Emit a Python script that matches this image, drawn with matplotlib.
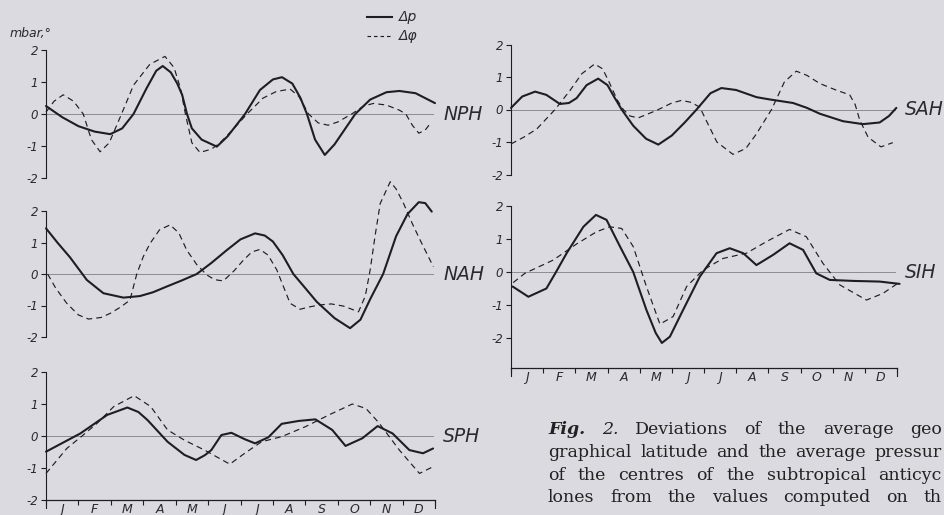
import matplotlib.pyplot as plt
from matplotlib.lines import Line2D

W, H = 944, 515
paper = '#dbdae0'
ink = '#1e1e22'

months = ['J', 'F', 'M', 'A', 'M', 'J', 'J', 'A', 'S', 'O', 'N', 'D']
yticks = [2, 1, 0, -1, -2]

# NPH
nph_p_m = [0, 0.5, 1.0, 1.5, 1.98, 2.35, 2.7, 3.1, 3.4, 3.6, 3.85, 4.05, 4.2, 4.35, 4.5, 4.8, 5.27, 5.6, 6.14, 6.6, 7.0, 7.28, 7.6, 7.85, 8.05, 8.3, 8.6, 8.9, 9.54, 10.0, 10.5, 10.9, 11.4, 12.0]
nph_p_v = [0.25, -0.1, -0.38, -0.55, -0.63, -0.45, 0.0, 0.8, 1.35, 1.5, 1.3, 0.95, 0.6, 0.0, -0.45, -0.8, -1.02, -0.7, 0.0, 0.75, 1.08, 1.15, 0.95, 0.5, 0.0, -0.8, -1.28, -0.95, 0.0, 0.45, 0.68, 0.72, 0.65, 0.34]
nph_f_m = [0, 0.25, 0.53, 0.85, 1.15, 1.4, 1.67, 1.95, 2.33, 2.7, 3.2, 3.67, 3.95, 4.15, 4.3, 4.5, 4.75, 5.1, 5.37, 5.8, 6.2, 6.7, 7.1, 7.53, 7.8, 8.1, 8.4, 8.7, 9.0, 9.43, 9.8, 10.1, 10.5, 10.9, 11.1, 11.3, 11.5, 11.7, 11.85]
nph_f_v = [0.06, 0.4, 0.6, 0.4, 0.0, -0.8, -1.18, -0.9, 0.0, 0.9, 1.55, 1.8, 1.45, 0.8, 0.0, -0.9, -1.2, -1.1, -0.9, -0.45, 0.0, 0.5, 0.7, 0.78, 0.55, 0.0, -0.28, -0.35, -0.25, 0.0, 0.25, 0.33, 0.28, 0.12, 0.0, -0.35, -0.6, -0.5, -0.3]

# SAH
sah_p_m = [0, 0.35, 0.75, 1.1, 1.52, 1.8, 2.04, 2.35, 2.71, 3.0, 3.2, 3.44, 3.8, 4.2, 4.58, 5.0, 5.4, 5.77, 6.2, 6.54, 7.0, 7.63, 8.04, 8.77, 9.2, 9.6, 10.32, 10.94, 11.46, 11.75, 11.98]
sah_p_v = [0.05, 0.4, 0.55, 0.45, 0.17, 0.2, 0.35, 0.75, 0.95, 0.75, 0.4, 0.0, -0.5, -0.9, -1.08, -0.8, -0.4, 0.0, 0.5, 0.66, 0.6, 0.38, 0.31, 0.2, 0.05, -0.13, -0.36, -0.45, -0.4, -0.2, 0.05]
sah_f_m = [0, 0.4, 0.8, 1.37, 1.83, 2.2, 2.6, 2.85, 3.07, 3.3, 3.49, 3.7, 3.95, 4.52, 5.0, 5.3, 5.6, 5.87, 6.1, 6.4, 6.9, 7.3, 7.63, 8.1, 8.5, 8.87, 9.2, 9.6, 10.1, 10.53, 10.7, 10.84, 11.1, 11.5, 11.87]
sah_f_v = [-1.06, -0.85, -0.6, 0.0, 0.58, 1.1, 1.4, 1.25, 0.8, 0.3, 0.0, -0.2, -0.26, -0.03, 0.2, 0.28, 0.22, 0.07, -0.4, -1.0, -1.38, -1.2, -0.75, 0.0, 0.85, 1.18, 1.05, 0.8, 0.6, 0.45, 0.15, -0.32, -0.85, -1.15, -1.02]

# NAH
nah_p_m = [0, 0.35, 0.74, 1.26, 1.77, 2.39, 2.9, 3.3, 3.72, 4.2, 4.65, 5.1, 5.58, 6.0, 6.45, 6.75, 7.0, 7.3, 7.63, 8.0, 8.35, 8.9, 9.38, 9.7, 10.0, 10.4, 10.8, 11.15, 11.5, 11.7, 11.9]
nah_p_v = [1.45, 1.0, 0.53, -0.19, -0.61, -0.75, -0.7, -0.58, -0.4, -0.2, 0.0, 0.35, 0.76, 1.1, 1.29, 1.22, 1.03, 0.6, 0.0, -0.45, -0.88, -1.4, -1.72, -1.45, -0.8, 0.0, 1.2, 1.9, 2.28, 2.25, 1.98]
nah_f_m = [0.05, 0.3, 0.64, 1.0, 1.31, 1.7, 1.98, 2.3, 2.59, 2.8, 3.0, 3.21, 3.5, 3.83, 4.1, 4.34, 4.65, 4.96, 5.2, 5.47, 5.8, 6.09, 6.35, 6.6, 6.85, 7.12, 7.53, 7.84, 8.1, 8.46, 8.8, 9.18, 9.64, 9.85, 10.0, 10.15, 10.31, 10.62, 10.8, 11.03, 11.3, 11.54, 11.95]
nah_f_v = [0.0, -0.45, -0.93, -1.3, -1.43, -1.38, -1.25, -1.05, -0.83, 0.0, 0.55, 0.97, 1.4, 1.56, 1.3, 0.76, 0.3, -0.03, -0.18, -0.22, 0.1, 0.44, 0.7, 0.78, 0.6, 0.13, -0.93, -1.12, -1.05, -0.98, -0.95, -1.02, -1.2, -0.7, 0.13, 1.2, 2.24, 2.93, 2.7, 2.24, 1.6, 1.08, 0.23]

# SIH
sih_p_m = [0.05, 0.54, 1.1, 1.4, 1.73, 2.25, 2.64, 2.97, 3.39, 3.8, 4.21, 4.5, 4.69, 4.94, 5.35, 5.87, 6.39, 6.8, 7.22, 7.63, 8.15, 8.66, 9.08, 9.49, 9.91, 10.63, 11.46, 12.08]
sih_p_v = [-0.44, -0.75, -0.5, 0.0, 0.57, 1.37, 1.73, 1.58, 0.77, 0.0, -1.15, -1.85, -2.15, -1.96, -1.15, -0.14, 0.57, 0.72, 0.57, 0.21, 0.52, 0.87, 0.67, -0.04, -0.24, -0.27, -0.29, -0.36]
sih_f_m = [0.07, 0.43, 1.31, 2.04, 2.66, 3.07, 3.44, 3.8, 4.21, 4.63, 5.04, 5.46, 5.97, 6.59, 7.32, 7.94, 8.66, 9.18, 9.7, 10.22, 11.05, 11.56, 12.03]
sih_f_v = [-0.32, -0.04, 0.36, 0.85, 1.22, 1.37, 1.32, 0.77, -0.44, -1.58, -1.35, -0.44, 0.06, 0.41, 0.57, 0.92, 1.29, 1.07, 0.26, -0.39, -0.85, -0.65, -0.34]

# SPH
sph_p_m = [0, 1.06, 1.89, 2.51, 2.85, 3.13, 3.75, 4.27, 4.63, 4.9, 5.1, 5.41, 5.72, 6.13, 6.45, 6.86, 7.27, 7.79, 8.31, 8.83, 9.24, 9.76, 10.23, 10.69, 11.21, 11.63, 11.94]
sph_p_v = [-0.49, 0.08, 0.66, 0.89, 0.75, 0.5, -0.18, -0.59, -0.75, -0.6, -0.44, 0.03, 0.1, -0.1, -0.23, -0.04, 0.38, 0.47, 0.52, 0.19, -0.31, -0.07, 0.31, 0.08, -0.44, -0.54, -0.39]
sph_f_m = [0, 0.64, 1.11, 1.58, 2.09, 2.72, 3.23, 3.75, 4.27, 4.89, 5.67, 6.13, 6.65, 7.27, 8.0, 8.73, 9.45, 9.87, 10.28, 10.9, 11.52, 11.94]
sph_f_v = [-1.17, -0.39, 0.0, 0.4, 0.92, 1.26, 0.92, 0.19, -0.13, -0.44, -0.88, -0.54, -0.18, -0.02, 0.29, 0.66, 1.0, 0.86, 0.4, -0.44, -1.17, -0.96]

# caption lines as they show on the page (the page edge cuts the last word)
caption = [
    ['Fig.', '2.', 'Deviations', 'of', 'the', 'average', 'geo'],
    ['graphical', 'latitude', 'and', 'the', 'average', 'pressur'],
    ['of', 'the', 'centres', 'of', 'the', 'subtropical', 'anticyc'],
    ['lones', 'from', 'the', 'values', 'computed', 'on', 'th'],
]

plt.rcParams['font.family'] = ['DejaVu Sans']

fig = plt.figure(figsize=(W / 100, H / 100), dpi=100)
fig.patch.set_facecolor(paper)


def fx(x):
    return x / W


def fy(y):
    return 1 - y / H


def panel(x0, x1, y_zero, ppu, name, p_m, p_v, f_m, f_v, ybot=-2, month_axis=False):
    top = y_zero - 2 * ppu
    bot = y_zero - ybot * ppu
    ax = fig.add_axes([fx(x0), fy(bot), (x1 - x0) / W, (bot - top) / H])
    ax.patch.set_visible(False)
    ax.set_xlim(0, 12)
    ax.set_ylim(ybot, 2)
    for s in ['top', 'right']:
        ax.spines[s].set_visible(False)
    ax.spines['left'].set_color(ink)
    ax.spines['left'].set_linewidth(0.8)
    ax.set_yticks(yticks)
    ax.set_yticklabels([str(t) for t in yticks], fontstyle='italic', fontsize=8.5, color='#2a2a2e')
    ax.tick_params(axis='y', direction='out', length=3.5, width=0.8, color=ink, pad=2)
    ax.axhline(0, xmin=0, xmax=0.995, color='#8c8b92', lw=0.7)
    if month_axis:
        ax.spines['bottom'].set_color(ink)
        ax.spines['bottom'].set_linewidth(0.9)
        ax.set_xticks(range(13))
        ax.set_xticklabels([])
        ax.set_xticks([i + 0.5 for i in range(12)], minor=True)
        ax.set_xticklabels(months, minor=True, fontstyle='italic', fontsize=9, color='#2a2a2e')
        ax.tick_params(axis='x', which='major', direction='out', length=3.5, width=0.8, color=ink)
        ax.tick_params(axis='x', which='minor', length=0, pad=2)
        for xe in (0, 12):
            ax.plot([xe, xe], [ybot, ybot - 8 / ppu], color=ink, lw=0.8, clip_on=False)
    else:
        ax.spines['bottom'].set_visible(False)
        ax.set_xticks([])
    ax.plot(p_m, p_v, color=ink, lw=1.5, clip_on=False, solid_joinstyle='round', solid_capstyle='round')
    ax.plot(f_m, f_v, color=ink, lw=0.85, ls=(0, (5, 3.5)), clip_on=False)
    fig.text(fx(x1 + 8), fy(y_zero), name, fontstyle='italic', fontsize=13.5,
             color='#2a2a2e', va='center', ha='left')
    return ax


panel(46, 435, 114, 32, 'NPH', nph_p_m, nph_p_v, nph_f_m, nph_f_v)
panel(46, 435, 274, 31.5, 'NAH', nah_p_m, nah_p_v, nah_f_m, nah_f_v)
panel(46, 435, 436, 32, 'SPH', sph_p_m, sph_p_v, sph_f_m, sph_f_v, month_axis=True)
panel(511, 897, 109.5, 32.5, 'SAH', sah_p_m, sah_p_v, sah_f_m, sah_f_v)
panel(511, 897, 272, 33, 'SIH', sih_p_m, sih_p_v, sih_f_m, sih_f_v, ybot=-2.91, month_axis=True)

# units label and legend
fig.text(fx(10), fy(34), 'mbar,°', fontstyle='italic', fontsize=9, color='#2a2a2e', va='center')
fig.add_artist(Line2D([fx(367), fx(392)], [fy(17), fy(17)], color=ink, lw=1.5))
fig.add_artist(Line2D([fx(367), fx(392)], [fy(36), fy(36)], color=ink, lw=0.85, ls=(0, (3, 2.5))))
fig.text(fx(399), fy(17), 'Δp', fontstyle='italic', fontsize=10, color='#2a2a2e', va='center')
fig.text(fx(399), fy(36), 'Δφ', fontstyle='italic', fontsize=10, color='#2a2a2e', va='center')

# caption, justified between x=548 and the page edge
renderer = fig.canvas.get_renderer()
left, right = 548, 942
for i, words in enumerate(caption):
    yy = fy(430 + 22.5 * i)
    texts = []
    for w in words:
        kw = dict(family='DejaVu Serif', fontsize=12.5, color='#222', va='center', ha='left')
        if w == 'Fig.':
            kw.update(fontstyle='italic', fontweight='bold')
        elif w == '2.':
            kw.update(fontstyle='italic')
        texts.append(fig.text(0, yy, w, **kw))
    widths = [t.get_window_extent(renderer).width for t in texts]
    gap = (right - left - sum(widths)) / (len(words) - 1)
    x = left
    for t, wd in zip(texts, widths):
        t.set_x(fx(x))
        x += wd + gap

fig.savefig('out.png', dpi=100, facecolor=paper)
